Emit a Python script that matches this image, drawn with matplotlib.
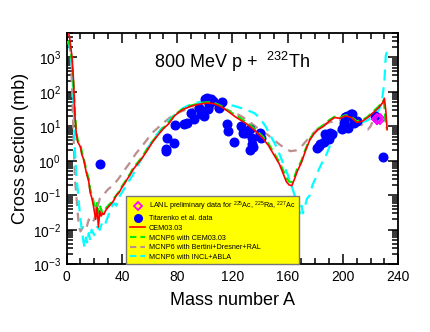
import numpy as np
import matplotlib
matplotlib.use('Agg')
import matplotlib.pyplot as plt
from matplotlib.ticker import MultipleLocator, LogLocator, NullFormatter
from matplotlib.lines import Line2D

plt.rcParams.update({
    'font.family': ['Liberation Sans', 'DejaVu Sans'],
    'mathtext.fontset': 'custom',
    'mathtext.rm': 'Liberation Sans',
    'mathtext.it': 'Liberation Sans:italic',
    'axes.linewidth': 1.3,
})

# CEM03.03 (red, solid)
cem_A = [1, 2, 3, 4, 5, 6, 7, 8, 9, 10, 11, 12, 13, 14, 15, 16, 17, 18, 19, 20,
         21, 22, 23, 24, 25, 26, 27, 28, 29, 30, 32, 34, 36, 38, 40, 42, 44, 46,
         48, 50, 54, 58, 62, 66, 70, 74, 78, 82, 86, 90, 94, 98, 102, 106, 110,
         114, 118, 122, 126, 130, 134, 138, 142, 146, 150, 154, 157, 159, 161,
         163, 165, 167, 170, 173, 176, 179, 182, 186, 190, 194, 198, 202, 206,
         210, 214, 218, 222, 226, 229, 230, 231, 232]
cem_v = [6000, 4000, 2000, 900, 200, 20, 6, 3.5, 3.0, 2.5, 1.5, 1.2, 0.8, 0.5,
         0.35, 0.25, 0.12, 0.09, 0.06, 0.035, 0.02, 0.045, 0.012, 0.035, 0.025,
         0.03, 0.028, 0.035, 0.04, 0.045, 0.055, 0.07, 0.1, 0.12, 0.17, 0.22,
         0.3, 0.4, 0.55, 0.7, 1.1, 1.9, 3.4, 5.5, 8.5, 12, 20, 27, 33, 38, 42,
         45, 47, 46, 40, 33, 25, 19, 15, 12, 9, 6.5, 4.5, 2.8, 1.5, 0.8, 0.4,
         0.25, 0.2, 0.19, 0.3, 0.5, 0.9, 2.0, 4.0, 6.0, 8.0, 10, 14, 18, 17, 20,
         18, 13, 14, 18, 25, 35, 50, 65, 30, 8]

# MCNP6 with CEM03.03 (green, dashed)
mcem_A = [1, 2, 3, 4, 5, 6, 7, 8, 9, 10, 11, 12, 13, 14, 15, 16, 17, 18, 19,
          20, 21, 22, 23, 24, 26, 28, 30, 32, 34, 36, 38, 40, 42, 44, 46, 48,
          50, 54, 58, 62, 66, 70, 74, 78, 82, 86, 90, 94, 98, 102, 106, 110,
          114, 118, 122, 126, 130, 134, 138, 142, 146, 150, 154, 157, 159, 161,
          163, 165, 167, 170, 173, 176, 179, 182, 186, 190, 194, 198, 202, 206,
          210, 214, 218, 222, 226, 228, 229, 230, 231, 232]
mcem_v = [3000, 2500, 1500, 700, 150, 25, 7, 4.0, 3.5, 2.8, 1.8, 1.3, 0.9,
          0.6, 0.4, 0.3, 0.15, 0.11, 0.08, 0.05, 0.035, 0.06, 0.03, 0.05, 0.03,
          0.04, 0.05, 0.06, 0.08, 0.1, 0.13, 0.18, 0.24, 0.32, 0.42, 0.6, 0.75,
          1.2, 2.1, 3.6, 5.8, 9, 13, 21, 28, 35, 40, 44, 48, 50, 49, 42, 35, 27,
          21, 17, 13, 10, 7, 5, 3.2, 1.7, 0.9, 0.5, 0.32, 0.25, 0.24, 0.35, 0.6,
          1.0, 2.2, 4.2, 6.5, 8.5, 11, 15, 19, 18, 21, 19, 14, 15, 19, 27, 38,
          48, 55, 40, 12, 8]

# MCNP6 with Bertini+Dresner+RAL (rosy brown, dashed)
brt_A = [3, 4, 5, 6, 7, 8, 9, 10, 12, 14, 16, 18, 20, 22, 24, 26, 28, 30, 34,
         38, 42, 46, 50, 54, 58, 62, 66, 70, 74, 78, 82, 86, 90, 94, 98, 102,
         106, 110, 114, 118, 122, 126, 130, 134, 138, 142, 146, 150, 154, 158,
         162, 166, 170, 174, 178, 182, 186, 190, 194, 198, 202, 206, 210, 214,
         218, 220, 222, 224]
brt_v = [1000, 100, 5, 0.3, 0.1, 0.03, 0.012, 0.009, 0.012, 0.01, 0.02, 0.015,
         0.02, 0.04, 0.08, 0.1, 0.12, 0.15, 0.2, 0.32, 0.55, 0.9, 1.6, 2.5, 4.0,
         6.5, 9, 12.5, 17, 22, 26, 30, 32, 34, 35, 35, 34, 33, 31, 28, 24, 20,
         16, 12, 9, 7, 5.5, 4.0, 3.0, 2.3, 1.9, 2.0, 2.6, 4.0, 6.0, 8.5, 11, 13,
         14, 15, 15, 14, 12, 11, 8, 10, 15, 20]

# MCNP6 with INCL+ABLA (cyan, dashed)
incl_A = [1, 2, 3, 4, 5, 6, 7, 8, 9, 10, 11, 12, 13, 14, 15, 16, 17, 18, 20,
          22, 24, 26, 28, 30, 32, 34, 36, 38, 40, 44, 48, 52, 56, 60, 64, 68,
          72, 76, 80, 84, 88, 92, 96, 100, 104, 108, 112, 116, 120, 124, 128,
          132, 136, 140, 144, 148, 152, 156, 160, 163, 165, 167, 169, 170, 171,
          172, 174, 176, 178, 180, 182, 185, 188, 191, 194, 197, 200, 203, 206,
          210, 214, 218, 222, 226, 228, 230, 231, 232]
incl_v = [3000, 2000, 1200, 400, 50, 2.0, 0.35, 0.15, 0.05, 0.02, 0.01, 0.005,
          0.003, 0.006, 0.004, 0.008, 0.005, 0.01, 0.007, 0.012, 0.01, 0.018,
          0.015, 0.025, 0.04, 0.06, 0.05, 0.09, 0.12, 0.22, 0.4, 0.8, 1.5, 2.8,
          5, 8, 12, 18, 25, 33, 40, 46, 50, 52, 52, 50, 47, 44, 40, 36, 32, 28,
          24, 17, 10, 5, 2.5, 1.0, 0.4, 0.18, 0.1, 0.05, 0.03, 0.05, 0.03, 0.04,
          0.08, 0.1, 0.2, 0.3, 0.5, 0.9, 1.5, 3.0, 5.0, 8.0, 10, 12, 14, 14, 13,
          15, 20, 30, 45, 200, 1100, 1500]

# Titarenko et al. data (blue circles)
tit_A = [24, 71.6, 72, 72.8, 77.6, 78.3, 84.8, 87.3, 89.7, 92, 95.7, 96.9,
         99.3, 100, 101.7, 102.4, 102.9, 104.5, 106, 110, 112.6, 116, 117, 121,
         126.5, 127.7, 129, 133, 134, 134, 133, 135, 140, 141, 181.3, 182.4,
         183.6, 186, 187, 189.6, 191, 192, 199.3, 200.5, 200.5, 201.7, 203,
         204, 205.8, 206.6, 207.7, 208, 210, 223, 229]
tit_v = [0.83, 2.2, 1.9, 4.7, 3.2, 10.7, 11.5, 12.6, 25, 16, 35, 22, 20, 60,
         65, 31, 44, 62, 55, 35, 49, 11.5, 7.2, 3.4, 10, 6.6, 6.5, 8.1, 4.7,
         3.0, 2.1, 2.5, 6.6, 4.7, 2.4, 2.7, 3.0, 3.4, 5.9, 4.2, 6.6, 6.0, 8.1,
         10, 12.6, 18, 20, 9.1, 22, 22, 14, 12.6, 14, 20, 1.3]

# LANL preliminary data (magenta diamonds)
lanl_A = [225, 225, 227]
lanl_v = [16.5, 16.5, 16.5]

fig = plt.figure(figsize=(4.3, 3.32), dpi=100)
ax = fig.add_axes([0.155, 0.204, 0.771, 0.696])

ax.plot(brt_A, brt_v, color='#bc8f8f', lw=1.6, dashes=(4, 3), zorder=3)
ax.plot(incl_A, incl_v, color='#00ffff', lw=1.6, dashes=(5, 3), zorder=3)
ax.plot(tit_A, tit_v, 'o', color='#0000ff', ms=6.2, mec='#0000ff', zorder=4)
ax.plot(lanl_A, lanl_v, 'D', ms=5, mfc='none', mec='#ff00ff', mew=1.3,
        zorder=5)
ax.plot(mcem_A, mcem_v, color='#00ee00', lw=1.6, dashes=(4, 2), zorder=6)
ax.plot(cem_A, cem_v, color='#ff0000', lw=1.2, zorder=7)

ax.set_yscale('log')
ax.set_xlim(0, 240)
ax.set_ylim(1e-3, 5000)
ax.xaxis.set_major_locator(MultipleLocator(40))
ax.xaxis.set_minor_locator(MultipleLocator(10))
ax.yaxis.set_major_locator(LogLocator(base=10, numticks=12))
ax.yaxis.set_minor_locator(LogLocator(base=10, subs=np.arange(2, 10),
                                      numticks=12))
ax.yaxis.set_minor_formatter(NullFormatter())
ax.tick_params(which='both', direction='in', top=True, right=True,
               labelsize=10, width=1.1, pad=4)
ax.tick_params(which='major', length=7)
ax.tick_params(which='minor', length=4)

ax.set_xlabel('Mass number A', fontsize=13, labelpad=6)
ax.set_ylabel('Cross section (mb)', fontsize=13, labelpad=3)
ax.text(0.5, 0.875, r'800 MeV p +  $^{232}$Th', transform=ax.transAxes,
        ha='center', va='center', fontsize=13)

handles = [
    Line2D([], [], ls='none', marker='D', ms=4, mfc='none', mec='#ff00ff',
           mew=1.3),
    Line2D([], [], ls='none', marker='o', ms=5.5, color='#0000ff'),
    Line2D([], [], color='#ff0000', lw=1.2),
    Line2D([], [], color='#00ee00', lw=1.5, dashes=(3, 2)),
    Line2D([], [], color='#bc8f8f', lw=1.5, dashes=(3, 2)),
    Line2D([], [], color='#00ffff', lw=1.5, dashes=(3, 2)),
]
labels = [
    r'LANL preliminary data for $^{225}$Ac, $^{225}$Ra, $^{227}$Ac',
    'Titarenko et al. data',
    'CEM03.03',
    'MCNP6 with CEM03.03',
    'MCNP6 with Bertini+Dresner+RAL',
    'MCNP6 with INCL+ABLA',
]
leg = ax.legend(handles, labels, loc='upper left',
                bbox_to_anchor=(0.179, 0.296), fontsize=5.2, frameon=True,
                fancybox=False, facecolor='#ffff00', edgecolor='#777777',
                framealpha=1, handlelength=2.2, handletextpad=0.5,
                labelspacing=0.35, borderpad=0.5, borderaxespad=0)
leg.get_frame().set_linewidth(1.0)
leg.set_zorder(10)

fig.savefig('out.png', dpi=100)
